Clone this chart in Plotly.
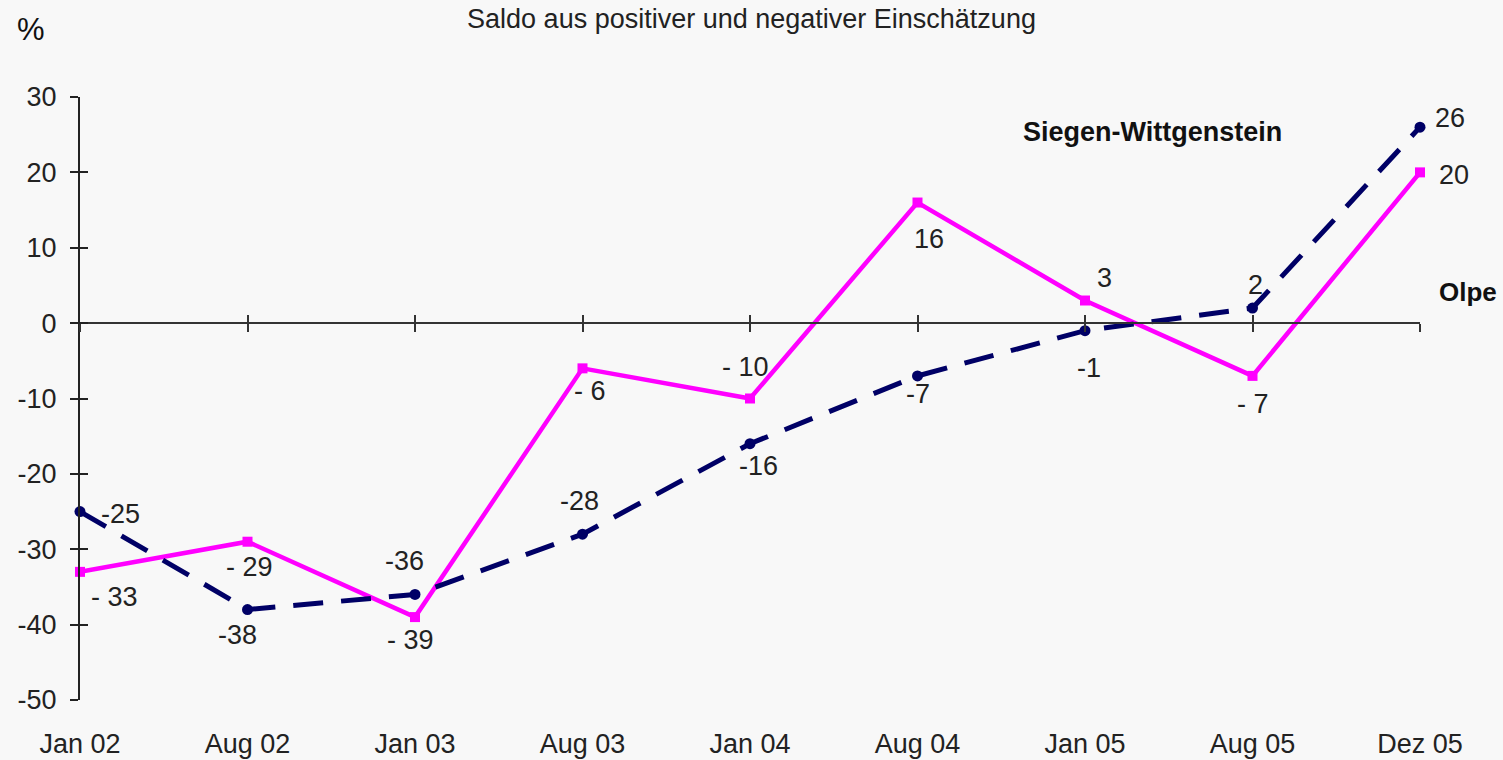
import plotly.graph_objects as go

categories = ["Jan 02", "Aug 02", "Jan 03", "Aug 03", "Jan 04", "Aug 04", "Jan 05", "Aug 05", "Dez 05"]
olpe_values = [-33, -29, -39, -6, -10, 16, 3, -7, 20]          # magenta solid
siegen_values = [-25, -38, -36, -28, -16, -7, -1, 2, 26]       # navy dashed
y_ticks = [30, 20, 10, 0, -10, -20, -30, -40, -50]

# label styling: text-centre offset from point in px (dx right, dy down)
olpe_label_offsets = [(34, 25), (2, 25), (-5, 23), (7, 23), (-5, -32), (11, 36), (19, -23), (0, 28), (34, 3)]
siegen_label_offsets = [(40, 2), (-10, 25), (-11, -33), (-3, -33), (8, 22), (0, 18), (4, 37), (3, -23), (30, -9)]

MAGENTA = "#ff00ff"
NAVY = "#000066"
TXT = "#222222"
FONT = "Arial, Liberation Sans, sans-serif"
FS = 27

xs = list(range(len(categories)))


def fmt_olpe(v):
    return f"- {abs(v)}" if v < 0 else f"{v}"


def fmt_siegen(v):
    return f"-{abs(v)}" if v < 0 else f"{v}"


fig = go.Figure()
fig.add_trace(go.Scatter(
    x=xs, y=olpe_values, mode="lines+markers", name="Olpe",
    line=dict(color=MAGENTA, width=4.5),
    marker=dict(symbol="square", size=10, color=MAGENTA),
    cliponaxis=False, showlegend=False,
))
fig.add_trace(go.Scatter(
    x=xs, y=siegen_values, mode="lines+markers", name="Siegen-Wittgenstein",
    line=dict(color=NAVY, width=5, dash="30px,18px"),
    marker=dict(symbol="circle", size=11, color=NAVY),
    cliponaxis=False, showlegend=False,
))
# helper traces so the overlay axes (zero line with crossing ticks) get drawn
fig.add_trace(go.Scatter(x=xs, y=[None] * len(xs), xaxis="x2", yaxis="y", mode="lines",
                         showlegend=False, hoverinfo="skip"))
fig.add_trace(go.Scatter(x=xs, y=[None] * len(xs), xaxis="x3", yaxis="y", mode="lines",
                         showlegend=False, hoverinfo="skip"))
fig.add_trace(go.Scatter(x=xs, y=[None] * len(xs), xaxis="x", yaxis="y2", mode="lines",
                         showlegend=False, hoverinfo="skip"))

annotations = []
for x, v, (dx, dy) in zip(xs, olpe_values, olpe_label_offsets):
    annotations.append(dict(x=x, y=v, xref="x", yref="y", text=fmt_olpe(v), showarrow=False,
                            xanchor="center", yanchor="middle", xshift=dx, yshift=-dy,
                            font=dict(family=FONT, size=FS, color=TXT)))
for x, v, (dx, dy) in zip(xs, siegen_values, siegen_label_offsets):
    annotations.append(dict(x=x, y=v, xref="x", yref="y", text=fmt_siegen(v), showarrow=False,
                            xanchor="center", yanchor="middle", xshift=dx, yshift=-dy,
                            font=dict(family=FONT, size=FS, color=TXT)))

annotations += [
    dict(text="%", x=-0.0485, y=1.112, xref="paper", yref="paper", showarrow=False,
         xanchor="left", yanchor="middle", font=dict(family=FONT, size=31, color="#111111")),
    dict(text="<b>Siegen-Wittgenstein</b>", x=0.8007, y=0.942, xref="paper", yref="paper",
         showarrow=False, xanchor="center", yanchor="middle",
         font=dict(family=FONT, size=27, color="#111111")),
    dict(text="<b>Olpe</b>", x=1.0358, y=0.6766, xref="paper", yref="paper",
         showarrow=False, xanchor="center", yanchor="middle",
         font=dict(family=FONT, size=26, color="#111111")),
]

axis_common = dict(range=[0, len(categories) - 1], tickvals=xs, showgrid=False, zeroline=False,
                   automargin=False)

fig.update_layout(
    width=1503, height=760,
    margin=dict(l=80, r=83, t=97, b=60),
    paper_bgcolor="#f8f8f8", plot_bgcolor="#f8f8f8",
    title=dict(text="Saldo aus positiver und negativer Einschätzung", x=0.5, xref="container",
               xanchor="center", y=1 - 19 / 760, yref="container", yanchor="middle",
               font=dict(family=FONT, size=27, color=TXT)),
    xaxis=dict(**axis_common, ticktext=categories, showline=False, ticks="",
               ticklabelstandoff=25, tickfont=dict(family=FONT, size=FS, color=TXT)),
    xaxis2=dict(**axis_common, overlaying="x", anchor="free", position=0.625,
                showticklabels=False, showline=True, linecolor="#333333", linewidth=2,
                ticks="outside", ticklen=8, tickwidth=2, tickcolor="#333333"),
    xaxis3=dict(**axis_common, overlaying="x", anchor="free", position=0.625,
                showticklabels=False, showline=False,
                ticks="inside", ticklen=8, tickwidth=2, tickcolor="#333333"),
    yaxis=dict(range=[-50, 30], tickvals=y_ticks, ticktext=[str(v) for v in y_ticks],
               showgrid=False, zeroline=False, automargin=False,
               showline=True, linecolor="#222222", linewidth=2,
               ticks="outside", ticklen=8, tickwidth=2, tickcolor="#222222",
               ticklabelstandoff=8, tickfont=dict(family=FONT, size=FS, color=TXT)),
    yaxis2=dict(range=[-50, 30], tickvals=y_ticks, overlaying="y", anchor="x",
                showgrid=False, zeroline=False, showticklabels=False, showline=False,
                automargin=False,
                ticks="inside", ticklen=8, tickwidth=2, tickcolor="#222222"),
    annotations=annotations,
)

fig.write_html("out.html", config={"displayModeBar": False},
               post_script="document.body.style.margin='0';document.body.style.overflow='hidden';")
